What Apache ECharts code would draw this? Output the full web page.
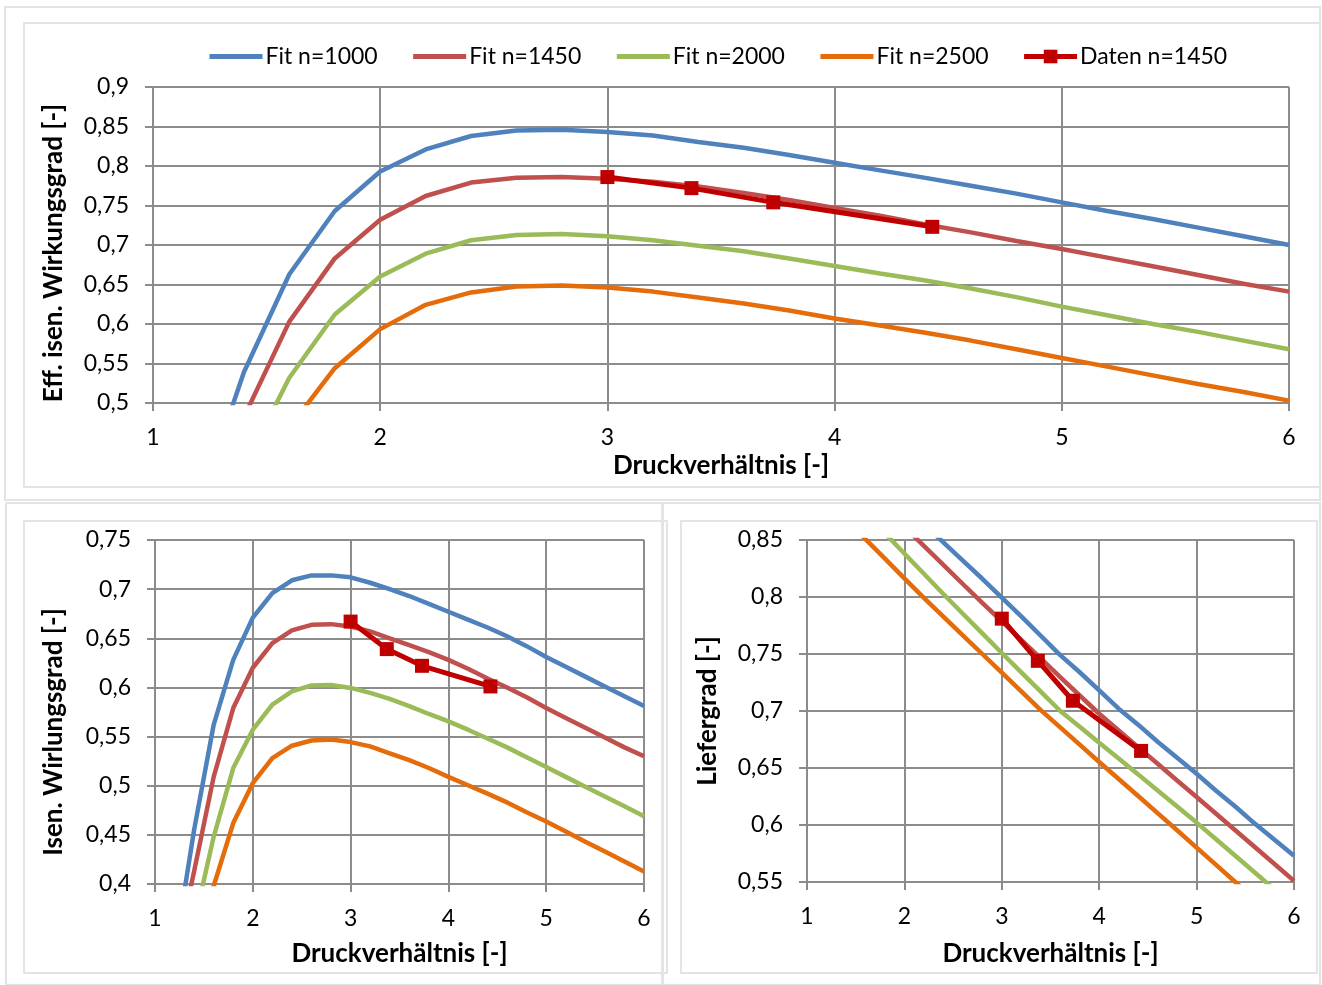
<!DOCTYPE html>
<html>
<head>
<meta charset="utf-8">
<script src="https://cdn.jsdelivr.net/npm/echarts@6/dist/echarts.min.js"></script>
<style>
html,body{margin:0;padding:0;background:#fff;}
#c{width:1322px;height:985px;}
</style>
</head>
<body>
<div id="c"></div>
<script>
// Shared x values (Druckverhältnis) for fitted curves
const xFit = [1.2,1.4,1.6,1.8,2.0,2.2,2.4,2.6,2.8,3.0,3.2,3.4,3.6,3.8,4.0,4.2,4.4,4.6,4.8,5.0,5.2,5.4,5.6,5.8,6.0];
const xData = [3.0, 3.37, 3.73, 4.43];
const seriesNames = ['Fit n=1000','Fit n=1450','Fit n=2000','Fit n=2500','Daten n=1450'];

// Top chart: Eff. isen. Wirkungsgrad
const effFit1000 = [0.37,0.539,0.663,0.743,0.793,0.821,0.838,0.845,0.846,0.843,0.8385,0.8305,0.823,0.814,0.804,0.7945,0.785,0.775,0.765,0.754,0.743,0.733,0.722,0.711,0.700];
const effFit1450 = [0.33,0.482,0.603,0.683,0.732,0.762,0.779,0.785,0.786,0.784,0.780,0.774,0.766,0.757,0.747,0.737,0.726,0.716,0.705,0.695,0.684,0.673,0.662,0.651,0.641];
const effFit2000 = [0.25,0.418,0.532,0.612,0.660,0.689,0.706,0.7127,0.714,0.711,0.706,0.699,0.692,0.683,0.6735,0.664,0.655,0.645,0.634,0.622,0.611,0.600,0.590,0.579,0.568];
const effFit2500 = [0.20,0.36,0.469,0.544,0.5935,0.6243,0.640,0.6474,0.6487,0.6461,0.641,0.6335,0.626,0.617,0.607,0.598,0.589,0.579,0.568,0.557,0.546,0.535,0.524,0.514,0.503];
const effData1450 = [0.786,0.772,0.754,0.723];

// Bottom-left: Isen. Wirlungsgrad
const isenFit1000 = [0.33,0.455,0.562,0.628,0.671,0.696,0.709,0.714,0.714,0.712,0.7065,0.700,0.693,0.685,0.677,0.669,0.661,0.652,0.642,0.631,0.621,0.611,0.601,0.591,0.581];
const isenFit1450 = [0.32,0.413,0.509,0.579,0.620,0.645,0.658,0.6637,0.6644,0.662,0.657,0.650,0.643,0.636,0.628,0.619,0.609,0.600,0.590,0.579,0.569,0.559,0.549,0.539,0.530];
const isenFit2000 = [0.25,0.36,0.448,0.518,0.557,0.5825,0.596,0.602,0.6025,0.5995,0.5944,0.5883,0.581,0.573,0.5655,0.557,0.548,0.539,0.529,0.519,0.509,0.499,0.489,0.479,0.469];
const isenFit2500 = [0.20,0.30,0.398,0.462,0.5026,0.528,0.5407,0.546,0.547,0.5444,0.540,0.533,0.526,0.518,0.509,0.5005,0.492,0.483,0.473,0.4636,0.4534,0.443,0.433,0.423,0.4126];
const isenData1450 = [0.667,0.639,0.622,0.601];

// Bottom-right: Liefergrad
const lgFit1000 = [0.95,0.93,0.913,0.897,0.881,0.864,0.848,0.832,0.816,0.7995,0.783,0.766,0.749,0.734,0.718,0.702,0.688,0.673,0.659,0.645,0.630,0.616,0.601,0.587,0.573];
const lgFit1450 = [0.93,0.913,0.896,0.879,0.8616,0.8448,0.8281,0.8114,0.7949,0.7786,0.7624,0.7461,0.7298,0.7136,0.6976,0.6829,0.6683,0.6537,0.639,0.6245,0.6099,0.5952,0.5805,0.5658,0.551];
const lgFit2000 = [0.91,0.891,0.8737,0.8559,0.8381,0.8204,0.8026,0.7853,0.7681,0.7509,0.7339,0.717,0.700,0.6861,0.6722,0.6583,0.6444,0.6303,0.6162,0.6021,0.5875,0.5728,0.5581,0.5434,0.5287];
const lgFit2500 = [0.886,0.8684,0.8508,0.8336,0.8164,0.7992,0.7828,0.7664,0.750,0.7336,0.7172,0.7008,0.6856,0.6705,0.6553,0.6403,0.6254,0.6104,0.5954,0.5802,0.565,0.5498,0.5346,0.5194,0.5041];
const lgData1450 = [0.781,0.744,0.709,0.665];

const xTicks = [1,2,3,4,5,6];

const colors = ['#4F81BD','#C0504D','#9BBB59','#E46C0A','#C00000'];
const FONT = 'Lato';
const gridColor = '#8c8c8c';

function zip(xs, ys){ return xs.map((x,i)=>[x, ys[i]]); }
function fmt(v){ return String(Math.round(v*100)/100).replace('.', ','); }

function xAxisCfg(idx, gap){
  return {
    type:'value', gridIndex: idx, min: xTicks[0], max: xTicks[xTicks.length-1], interval: 1,
    name:'Druckverhältnis [-]', nameLocation:'middle', nameGap: gap,
    nameTextStyle:{fontFamily:FONT, fontWeight:'bold', fontSize:26, color:'#000'},
    axisLine:{show:true, lineStyle:{color:gridColor, width:2}},
    axisTick:{show:true, length:8, inside:false, lineStyle:{color:gridColor, width:2}},
    axisLabel:{fontFamily:FONT, fontSize:23, color:'#000', margin:23},
    splitLine:{show:true, lineStyle:{color:gridColor, width:2}}
  };
}
function yAxisCfg(idx, min, max, name, gap, shift){
  return {
    type:'value', gridIndex: idx, min: min, max: max, interval: 0.05,
    name: name, nameLocation:'middle', nameGap: gap, nameRotate: 90,
    nameTextStyle:{fontFamily:FONT, fontWeight:'bold', fontSize:26, color:'#000', padding:[0, shift, 0, 0]},
    axisLine:{show:true, lineStyle:{color:gridColor, width:2}},
    axisTick:{show:true, length:8, inside:false, lineStyle:{color:gridColor, width:2}},
    axisLabel:{fontFamily:FONT, fontSize:23, color:'#000', margin:24, formatter: fmt},
    splitLine:{show:true, lineStyle:{color:gridColor, width:2}}
  };
}

function fitSeries(name, idx, ys, color){
  return {
    name, type:'line', xAxisIndex: idx, yAxisIndex: idx,
    data: zip(xFit, ys), symbol:'circle', symbolSize:0, showSymbol:false, clip:true,
    lineStyle:{color, width:4.5}, itemStyle:{color, opacity:0}, z:2, animation:false
  };
}
function dataSeries(name, idx, ys){
  return {
    name, type:'line', xAxisIndex: idx, yAxisIndex: idx,
    data: zip(xData, ys), symbol:'rect', symbolSize:14, clip:true,
    lineStyle:{color:colors[4], width:5}, itemStyle:{color:colors[4]}, z:5, animation:false
  };
}

const sets = [
  [effFit1000, effFit1450, effFit2000, effFit2500, effData1450],
  [isenFit1000, isenFit1450, isenFit2000, isenFit2500, isenData1450],
  [lgFit1000, lgFit1450, lgFit2000, lgFit2500, lgData1450]
];
const series = [];
sets.forEach((s, idx)=>{
  for(let k=0;k<4;k++) series.push(fitSeries(seriesNames[k], idx, s[k], colors[k]));
  series.push(dataSeries(seriesNames[4], idx, s[4]));
});

const frame = {type:'rect', silent:true, style:{fill:'none', stroke:'#e4e4e4', lineWidth:2}};
function rect(x,y,w,h){ return Object.assign({}, frame, {shape:{x,y,width:w,height:h}}); }

const chart = echarts.init(document.getElementById('c'), null, {renderer:'canvas'});
chart.setOption({
  backgroundColor:'#fff',
  animation:false,
  color: colors,
  graphic: [
    rect(5,7,1315,493), rect(24,23,1296,464),
    rect(6,503,656,482), rect(24,521,643,452),
    rect(663,503,657,482), rect(681,521,636,452)
  ],
  legend:{
    data: seriesNames.map((n,i)=> i<4 ? {name:n, itemStyle:{opacity:0}} : {name:n}),
    left: 207, top: 45, padding: 0, itemWidth: 53, itemHeight: 17, itemGap: 33,
    lineStyle:{width:5},
    textStyle:{fontFamily:FONT, fontSize:23, color:'#000', padding:[0,0,0,-2]}
  },
  grid:[
    {left:153, top:87, width:1136, height:316},
    {left:155, top:540, width:489, height:344},
    {left:807, top:540, width:487, height:342}
  ],
  xAxis:[xAxisCfg(0, 50), xAxisCfg(1, 57), xAxisCfg(2, 59)],
  yAxis:[
    yAxisCfg(0, 0.5, 0.9, 'Eff. isen. Wirkungsgrad [-]', 86, 16),
    yAxisCfg(1, 0.4, 0.75, 'Isen. Wirlungsgrad [-]', 88, 40),
    yAxisCfg(2, 0.55, 0.85, 'Liefergrad [-]', 86, 0)
  ],
  series
});
</script>
</body>
</html>
